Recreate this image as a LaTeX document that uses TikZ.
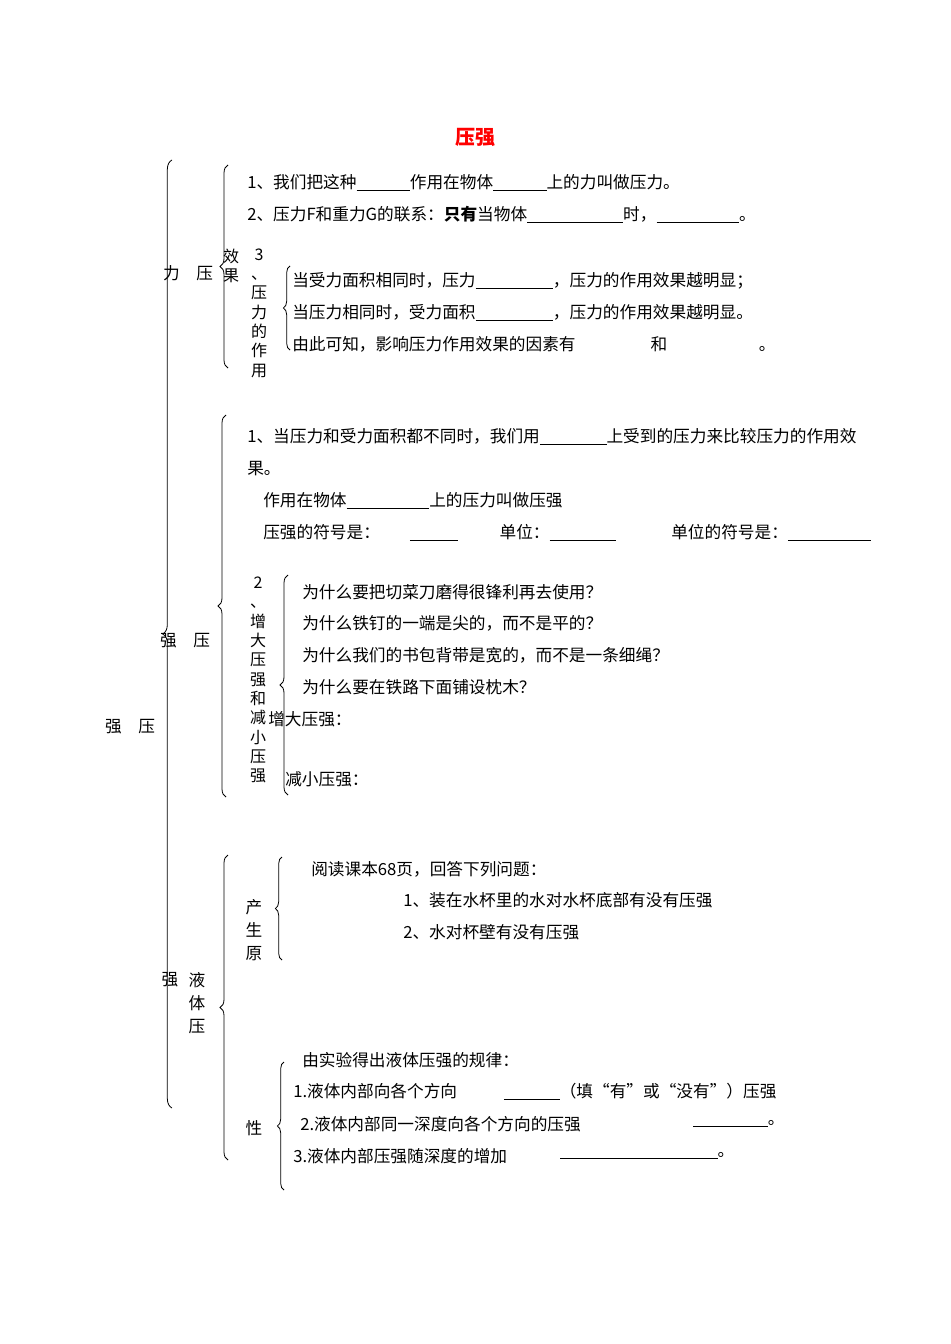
\documentclass[tikz,border=0pt]{standalone}
\usepackage{fontspec}
\setmainfont{Noto Sans CJK SC}
\usetikzlibrary{decorations.pathreplacing}
\newcommand{\blk}[1]{\underline{\hspace{#1pt}}}
\begin{document}
\begin{tikzpicture}[x=0.75pt,y=-0.75pt,
  t/.style={anchor=west,inner sep=0pt,font=\fontsize{12.5}{15}\selectfont},
  lab/.style={inner sep=0pt,font=\fontsize{12.5}{15}\selectfont},
  vlab/.style={inner sep=0pt,align=center,font=\fontsize{12}{14.5}\selectfont},
  br/.style={decorate,decoration={brace,amplitude=#1},line width=0.6pt}]
\useasboundingbox[fill=white] (0,0) rectangle (950,1344);
\node[lab,font=\fontsize{15}{18}\bfseries\selectfont,text=red] (title) at (475,137) {压强};
% braces
\draw[br=7] (172,1108) -- (172,160);
\node[lab] (qy) at (130,727) {强\hspace{1em}压};
\draw[br=6] (228,368) -- (228,165);
\node[lab] (yl) at (188,273) {力\hspace{1em}压};
\node[vlab] (xg) at (231,266) {效\\果};
\node[vlab] (v3) at (259,313) {3\\、\\压\\力\\的\\作\\用};
\draw[br=5] (290,350) -- (290,266);
\draw[br=6] (226,797) -- (226,415);
\node[lab] (qy2) at (185,641) {强\hspace{1em}压};
\node[vlab] (v2) at (258,680) {2\\、\\增\\大\\压\\强\\和\\减\\小\\压\\强};
\draw[br=6] (288,795) -- (288,575);
\draw[br=6] (228,1160) -- (228,855);
\node[lab] (q3) at (170,980) {强};
\node[vlab,font=\fontsize{12.5}{17.5}\selectfont] (yt) at (197,1003) {液\\体\\压};
\draw[br=5] (282,960) -- (282,857);
\node[vlab,font=\fontsize{12.5}{17.5}\selectfont] (cs) at (254,930) {产\\生\\原};
\draw[br=5] (284,1190) -- (284,1062);
\node[lab] (xz) at (254,1128) {性};
% texts
\node[t] (a1) at (247,183) {1、我们把这种\blk{40}作用在物体\blk{40}上的力叫做压力。};
\node[t] (a2) at (247,215) {2、压力F和重力G的联系：\textbf{只有}当物体\blk{72}时，\blk{62}。};
\node[t] (b1) at (292,281) {当受力面积相同时，压力\blk{58}，压力的作用效果越明显；};
\node[t] (b2) at (292,313) {当压力相同时，受力面积\blk{58}，压力的作用效果越明显。};
\node[t] (b3) at (292,344) {由此可知，影响压力作用效果的因素有\hspace{4.5em}和\hspace{5.5em}。};
\node[t] (c1) at (247,437) {1、当压力和受力面积都不同时，我们用\blk{50}上受到的压力来比较压力的作用效};
\node[t] (c2) at (247,469) {果。};
\node[t] (c3) at (263,501) {作用在物体\blk{62}上的压力叫做压强};
\node[t] (c4) at (263,533) {压强的符号是：\hspace{1.8em}\blk{36}\hspace{2.5em}单位：\blk{50}\hspace{3.3em}单位的符号是：\blk{62}};
\node[t] (d1) at (302,592) {为什么要把切菜刀磨得很锋利再去使用？};
\node[t] (d2) at (302,623) {为什么铁钉的一端是尖的，而不是平的？};
\node[t] (d3) at (302,655) {为什么我们的书包背带是宽的，而不是一条细绳？};
\node[t] (d4) at (302,687) {为什么要在铁路下面铺设枕木？};
\node[t] (d5) at (268,719) {增大压强：};
\node[t] (d6) at (285,779) {减小压强：};
\node[t] (e1) at (311,869) {阅读课本68页，回答下列问题：};
\node[t] (e2) at (403,900) {1、装在水杯里的水对水杯底部有没有压强};
\node[t] (e3) at (403,932) {2、水对杯壁有没有压强};
\node[t] (f1) at (302,1060) {由实验得出液体压强的规律：};
\node[t] (f2) at (293,1092) {1.液体内部向各个方向\hspace{2.8em}\blk{42}（填“有”或“没有”）压强};
\node[t] (f3) at (300,1124) {2.液体内部同一深度向各个方向的压强};
\node[t] (f3b) at (693,1124) {\blk{56}。};
\node[t] (f4) at (293,1156) {3.液体内部压强随深度的增加};
\node[t] (f4b) at (560,1156) {\blk{118}。};
\end{tikzpicture}
\end{document}
